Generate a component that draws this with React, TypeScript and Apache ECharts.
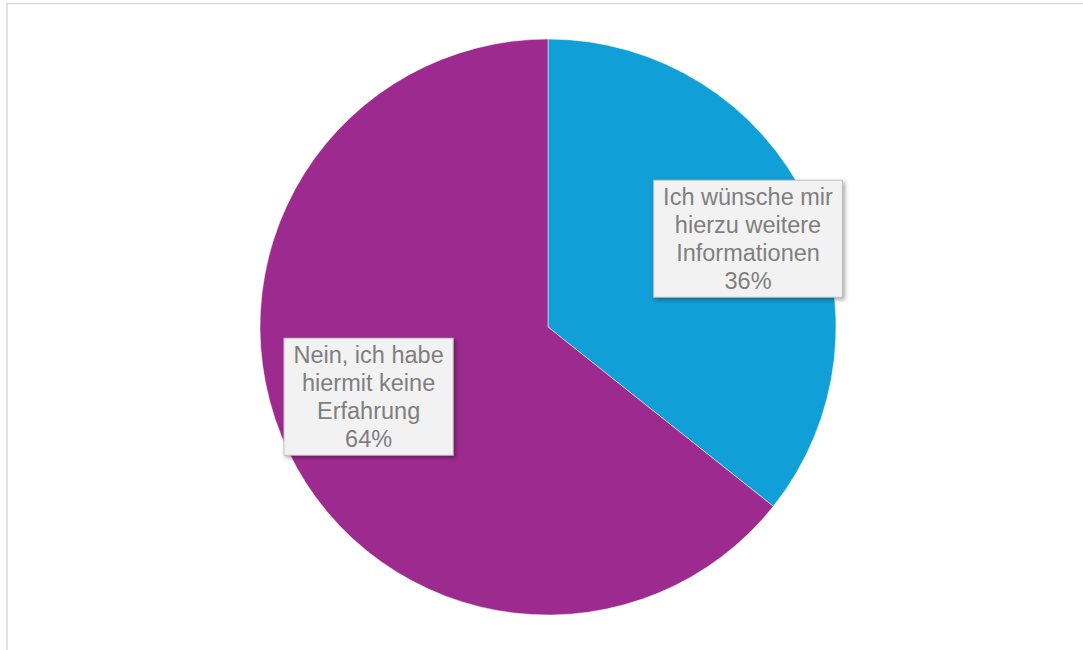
import React, { useEffect, useRef } from "react";
import * as echarts from "echarts";

const categories = [
  "Ich wünsche mir\nhierzu weitere\nInformationen",
  "Nein, ich habe\nhiermit keine\nErfahrung",
];
const values = [35.7, 64.3];
const colors = ["#119FD7", "#9D2A8E"];
const labelShifts = [
  [67.6, -24.3],
  [-47, 5.8],
];

export default function App() {
  const ref = useRef<HTMLDivElement>(null);
  useEffect(() => {
    if (!ref.current) return;
    const chart = echarts.init(ref.current, null, { renderer: "svg" });
    chart.setOption({
      animation: false,
      backgroundColor: "#ffffff",
      graphic: [
        {
          type: "rect",
          shape: { x: 7, y: 3.5, width: 1200, height: 800 },
          style: { fill: "none", stroke: "#d9d9d9", lineWidth: 1.5 },
          silent: true,
          z: 100,
        },
      ],
      series: [
        {
          type: "pie",
          center: [548, 327],
          radius: [0, 288],
          startAngle: 90,
          clockwise: true,
          percentPrecision: 0,
          data: categories.map((name, i) => ({
            name,
            value: values[i],
            itemStyle: { color: colors[i] },
          })),
          itemStyle: { borderColor: "#ffffff", borderWidth: 0.5 },
          label: {
            show: true,
            position: "inside",
            formatter: "{b}\n{d}%",
            color: "#7f7f7f",
            fontFamily: "Liberation Sans, Arial, sans-serif",
            fontSize: 23.5,
            lineHeight: 28,
            align: "center",
            backgroundColor: "#f2f2f2",
            borderColor: "#bfbfbf",
            borderWidth: 1,
            padding: [2, 9, 2, 9],
            shadowColor: "rgba(0,0,0,0.35)",
            shadowBlur: 4,
            shadowOffsetX: 2,
            shadowOffsetY: 2,
          },
          labelLine: { show: false },
          labelLayout: (params: any) => ({
            dx: labelShifts[params.dataIndex][0],
            dy: labelShifts[params.dataIndex][1],
          }),
          emphasis: { disabled: true },
        },
      ],
    });
    return () => chart.dispose();
  }, []);
  return (
    <div
      ref={ref}
      style={{ position: "absolute", left: 0, top: 0, width: 1083, height: 650 }}
    />
  );
}
